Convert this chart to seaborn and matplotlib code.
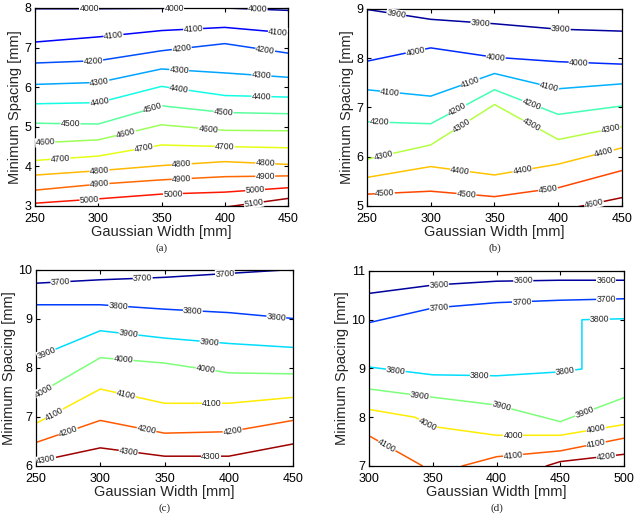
"""Four contour panels: minimum spacing vs. Gaussian width, iso-lines labelled
by value (redrawn from the contour polylines read off the figure)."""
import numpy as np
import matplotlib
matplotlib.use("Agg")
import matplotlib.pyplot as plt
import seaborn as sns

# ---- panel (a): Gaussian width 250-450, spacing 3-8 ----
A_X = [250, 300, 350, 400, 450]
A_LINES = {
    4000: [([250, 300, 350, 400, 450], [7.98, 7.98, 7.99, 8.00, 7.94])],
    4100: [(A_X, [7.14, 7.27, 7.43, 7.51, 7.37])],
    4200: [(A_X, [6.61, 6.67, 6.92, 7.10, 6.86])],
    4300: [(A_X, [6.07, 6.12, 6.46, 6.36, 6.25])],
    4400: [(A_X, [5.58, 5.61, 6.02, 5.79, 5.75])],
    4500: [(A_X, [5.09, 5.07, 5.53, 5.36, 5.33])],
    4600: [(A_X, [4.59, 4.67, 5.05, 4.91, 4.90])],
    4700: [(A_X, [4.15, 4.26, 4.54, 4.50, 4.47])],
    4800: [(A_X, [3.78, 3.89, 4.02, 4.12, 4.05])],
    4900: [(A_X, [3.40, 3.55, 3.66, 3.74, 3.76])],
    5000: [(A_X, [3.07, 3.18, 3.30, 3.35, 3.46])],
    5100: [([400, 450], [2.97, 3.19])],
}
A_LABEL_X = {
    4000: [293, 360, 426], 4100: [312, 375, 442], 4200: [296, 366, 432],
    4300: [301, 364, 429], 4400: [301, 364, 429], 4500: [278, 343, 399],
    4600: [258, 322, 387], 4700: [270, 336, 400], 4800: [301, 366, 432],
    4900: [301, 366, 432], 5000: [293, 359, 424], 5100: [423],
}

# ---- panel (b): Gaussian width 250-450, spacing 5-9 ----
B_X = [250, 300, 350, 400, 450]
B_LINES = {
    3900: [(B_X, [8.99, 8.79, 8.70, 8.59, 8.55])],
    4000: [(B_X, [7.94, 8.21, 8.02, 7.93, 7.88])],
    4100: [(B_X, [7.36, 7.23, 7.69, 7.38, 7.48])],
    4200: [(B_X, [6.71, 6.67, 7.36, 6.86, 7.03])],
    4300: [(B_X, [5.95, 6.24, 7.06, 6.35, 6.61])],
    4400: [(B_X, [5.58, 5.80, 5.63, 5.85, 6.18])],
    4500: [(B_X, [5.24, 5.30, 5.19, 5.37, 5.72])],
    4600: [([400, 450], [4.90, 5.17])],
}
B_LABEL_X = {
    3900: [273, 339, 402], 4000: [288, 351, 416], 4100: [268, 331, 393],
    4200: [260, 321, 379], 4300: [263, 324, 379, 441], 4400: [323, 372, 436],
    4500: [264, 328, 392], 4600: [428],
}

# ---- panel (c): Gaussian width 250-450, spacing 6-10 ----
C_X = [250, 300, 350, 400, 450]
C_LINES = {
    3700: [(C_X, [9.73, 9.80, 9.85, 9.93, 10.01])],
    3800: [(C_X, [9.29, 9.29, 9.20, 9.13, 9.01])],
    3900: [(C_X, [8.22, 8.76, 8.61, 8.50, 8.42])],
    4000: [(C_X, [7.45, 8.21, 8.10, 7.90, 7.88])],
    4100: [(C_X, [6.87, 7.57, 7.28, 7.28, 7.40])],
    4200: [(C_X, [6.48, 6.93, 6.67, 6.70, 6.93])],
    4300: [(C_X, [6.09, 6.37, 6.20, 6.20, 6.45])],
}
C_LABEL_X = {
    3700: [269, 333, 397], 3800: [314, 372, 437], 3900: [258, 322, 385],
    4000: [256, 318, 382], 4100: [264, 320, 387], 4200: [275, 336, 403],
    4300: [258, 322, 386],
}

# ---- panel (d): Gaussian width 300-500, spacing 7-11 ----
D_X = [300, 350, 400, 450, 500]
D_LINES = {
    3600: [(D_X, [10.54, 10.71, 10.79, 10.81, 10.81])],
    3700: [(D_X, [9.94, 10.24, 10.35, 10.40, 10.43])],
    3800: [([300, 350, 400, 450, 467, 467, 500], [9.03, 8.87, 8.85, 8.93, 8.99, 10.00, 10.02])],
    3900: [(D_X, [8.58, 8.41, 8.25, 7.91, 8.40])],
    4000: [([300, 336, 350, 400, 450, 500], [8.16, 8.00, 7.81, 7.63, 7.63, 7.85])],
    4100: [([300, 342], [7.62, 7.00]), ([373, 400, 450, 500], [7.00, 7.19, 7.31, 7.57])],
    4200: [([439, 450, 500], [7.00, 7.09, 7.24])],
}
D_LABEL_X = {
    3600: [355, 421, 486], 3700: [355, 420, 486], 3800: [321, 387, 454, 481],
    3900: [340, 404, 469], 4000: [346, 413, 478], 4100: [314, 413, 478],
    4200: [486],
}

FIG_W, FIG_H = 6.4, 5.22
sns.set_style("ticks")
plt.rcParams["font.family"] = ["Liberation Sans", "DejaVu Sans"]

fig = plt.figure(figsize=(FIG_W, FIG_H), dpi=100)


def draw_panel(rect, lines, label_x, xlim, ylim, yticks, letter, crange=(0.03, 0.97)):
    ax = fig.add_axes(rect)
    cmap = plt.get_cmap("jet")
    levels = sorted(lines)
    cols = [cmap(p) for p in np.linspace(crange[0], crange[1], len(levels))]
    for lev, col in zip(levels, cols):
        for xs, ys in lines[lev]:
            sns.lineplot(x=xs, y=ys, ax=ax, color=col, lw=1.1, estimator=None,
                         sort=False, legend=False, zorder=2)
    ax.set_xlim(xlim)
    ax.set_ylim(ylim)
    ax.set_xticks(np.arange(xlim[0], xlim[1] + 1, 50))
    ax.set_yticks(yticks)

    # inline level labels, rotated along the line
    for lev in levels:
        for lx in label_x.get(lev, []):
            for xs, ys in lines[lev]:
                if min(xs) <= lx <= max(xs):
                    ly = np.interp(lx, xs, ys)
                    x0, x1 = max(lx - 4, min(xs)), min(lx + 4, max(xs))
                    p0 = ax.transData.transform((x0, np.interp(x0, xs, ys)))
                    p1 = ax.transData.transform((x1, np.interp(x1, xs, ys)))
                    ang = np.degrees(np.arctan2(p1[1] - p0[1], p1[0] - p0[0]))
                    ax.text(lx, ly, str(lev), fontsize=6.3, color="#222222",
                            ha="center", va="center", rotation=ang,
                            rotation_mode="anchor", zorder=3,
                            bbox=dict(fc="white", ec="none", pad=0.1))
                    break

    ax.tick_params(direction="in", top=True, right=True, length=3, width=0.8,
                   labelsize=9, colors="black")
    ax.tick_params(axis="x", pad=5)
    ax.tick_params(axis="y", pad=2.5)
    for sp in ax.spines.values():
        sp.set_visible(True)
        sp.set_linewidth(0.9)
        sp.set_color("black")
    ax.set_xlabel("Gaussian Width [mm]", fontsize=10.5, labelpad=0)
    ax.set_ylabel("Minimum Spacing [mm]", fontsize=10.5, labelpad=1.5)
    ax.text(0.5, -0.215, letter, transform=ax.transAxes, ha="center", va="center",
            fontsize=8, family="Liberation Serif")
    return ax


draw_panel([0.0547, 0.6054, 0.3953, 0.3793], A_LINES, A_LABEL_X,
           (250, 450), (3, 8), [3, 4, 5, 6, 7, 8], "(a)")
draw_panel([0.5734, 0.6054, 0.3984, 0.3774], B_LINES, B_LABEL_X,
           (250, 450), (5, 9), [5, 6, 7, 8, 9], "(b)")
draw_panel([0.0563, 0.1073, 0.4016, 0.3755], C_LINES, C_LABEL_X,
           (250, 450), (6, 10), [6, 7, 8, 9, 10], "(c)")
draw_panel([0.5766, 0.1073, 0.3984, 0.3736], D_LINES, D_LABEL_X,
           (300, 500), (7, 11), [7, 8, 9, 10, 11], "(d)")

fig.savefig("out.png", dpi=100)
